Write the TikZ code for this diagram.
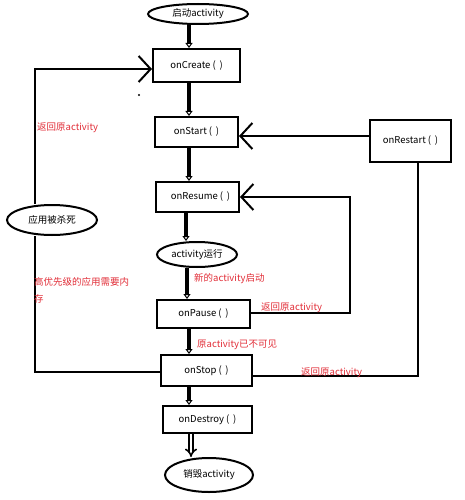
\documentclass[tikz,border=0pt]{standalone}
\usepackage{fontspec}
\setmainfont{Noto Sans CJK SC}
\usetikzlibrary{arrows.meta,positioning,shapes.geometric}
\definecolor{notered}{RGB}{225,45,55}

\begin{document}
\begin{tikzpicture}[
    x=1pt,y=-1pt,
    font=\fontsize{9.5}{11}\selectfont,
    box/.style={draw,line width=2pt,inner sep=1pt},
    state/.style={draw,ellipse,line width=2pt,inner sep=0pt},
    flow/.style={line width=3.5pt,-{Triangle[open,length=5pt,width=7pt,line width=1pt]}},
    back/.style={line width=2pt,-{Straight Barb[length=12pt,width=26pt]}},
    rail/.style={line width=2pt},
    note/.style={text=notered,anchor=west,inner sep=0pt}
  ]
    \useasboundingbox (0,0) rectangle (465,500);

    % Main life cycle, top to bottom
    \node[state,minimum width=100pt,minimum height=20pt] (start) at (198,14) {启动activity};
    \node[box,minimum width=87pt,minimum height=33pt] (onCreate) at (196.5,65.5) {onCreate (\ \,)};
    \node[box,minimum width=83pt,minimum height=30pt] (onStart) at (196.5,132) {onStart (\ \,)\hspace{10pt}};
    \node[box,minimum width=83pt,minimum height=30pt] (onResume) at (197.5,197) {\hspace{6pt}onResume (\ \,)};
    \node[state,minimum width=80pt,minimum height=25pt] (running) at (197,254.5) {activity运行};
    \node[box,minimum width=93pt,minimum height=28pt] (onPause) at (203.5,314) {onPause (\ \,)\hspace{8pt}};
    \node[box,minimum width=91pt,minimum height=31pt] (onStop) at (206.5,370.5) {onStop (\ \,)\hspace{6pt}};
    \node[box,minimum width=89pt,minimum height=27pt] (onDestroy) at (207.5,419.5) {onDestroy (\ \,)\hspace{4pt}};
    \node[state,minimum width=88pt,minimum height=34pt] (destroyed) at (209,475) {销毁activity};

    % Side nodes
    \node[box,minimum width=81pt,minimum height=42pt] (onRestart) at (410.5,141) {onRestart (\ \,)};
    \node[state,minimum width=90pt,minimum height=30pt] (killed) at (52,220) {应用被杀死};

    % Rails for the loops
    \coordinate (spine) at (189,0);
    \coordinate (leftrail) at (35,0);
    \coordinate (pauserail) at (350,0);
    \coordinate (stoprail) at (418,0);

    % Downward flow
    \draw[flow] (start.south -| spine) -- (onCreate.north -| spine);
    \draw[flow] (onCreate.south -| spine) -- (onStart.north -| spine);
    \draw[flow] (onStart.south -| spine) -- (onResume.north -| spine);
    \draw[flow] ([xshift=-3pt]onResume.south -| spine) -- ([xshift=-3pt]running.north -| spine);
    \draw[flow] ([xshift=-2pt]running.south -| spine) -- ([xshift=-2pt]onPause.north -| spine);
    \draw[flow] (onPause.south -| spine) -- (onStop.north -| spine);
    \draw[flow] (onStop.south -| spine) -- (onDestroy.north -| spine);
    \draw[line width=1.6pt,double,double distance=2.4pt,-{Implies}] ([xshift=2pt]onDestroy.south -| spine) -- ([xshift=2pt]destroyed.north -| spine);

    % Left loop: killed and restarted from onCreate
    \draw[rail] ([yshift=-1.5pt]onStop.west) -- ([yshift=-1.5pt]onStop.west -| leftrail) -- (killed.south -| leftrail);
    \draw[back] (killed.north -| leftrail) -- ([yshift=-3.5pt]leftrail |- onCreate.west) -- ([yshift=-3.5pt]onCreate.west);

    % Right loops
    \coordinate (rin) at ([yshift=-4pt]onStart.east);
    \draw[back] (rin -| onRestart.west) -- (rin);
    \draw[back] ([yshift=1pt]onPause.east) -- ([yshift=1pt]onPause.east -| pauserail) -- (pauserail |- onResume.east) -- (onResume.east);
    \draw[rail] ([yshift=-5.5pt]onStop.east) -- ([yshift=-5.5pt]onStop.east -| stoprail) -- (stoprail |- onRestart.south);

    % Red notes
    \node[note] (n1) at (37,128) {返回原activity};
    \node[note,anchor=north west,align=left,font=\fontsize{9.5}{17}\selectfont] (n2) at (34,277) {高优先级的应用需要内\\存};
    \node[note] (n3) at (194,279) {新的activity启动};
    \node[note] (n4) at (261,308) {返回原activity};
    \node[note] (n5) at (197,345) {原activity已不可见};
    \node[note] (n6) at (301,373) {返回原activity};

    % stray dot
    \fill (139,95) circle (1.2pt);
  \end{tikzpicture}
\end{document}
